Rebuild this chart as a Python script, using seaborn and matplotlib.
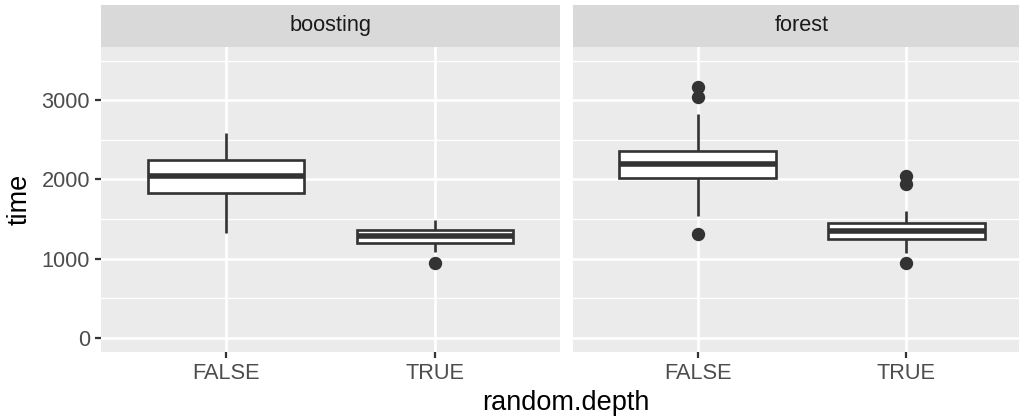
import pandas as pd
import seaborn as sns
import matplotlib.pyplot as plt
from matplotlib.ticker import MultipleLocator

# values (boxes: whisker ends, quartiles, median, outliers)
boosting_false = [1322, 1600, 1834, 1950, 2049, 2150, 2243, 2400, 2582]
boosting_true = [947, 1081, 1200, 1250, 1289, 1320, 1356, 1420, 1492]
forest_false = [1306, 1534, 1800, 2019, 2080, 2150, 2196, 2250, 2300, 2361, 2826, 3046, 3172]
forest_true = [947, 1074, 1200, 1251, 1300, 1330, 1352, 1400, 1430, 1449, 1601, 1939, 2044]

panels = ["boosting", "forest"]
depth_levels = ["FALSE", "TRUE"]
y_ticks = [0, 1000, 2000, 3000]

rows = []
for panel, depth, vals in [("boosting", "FALSE", boosting_false),
                           ("boosting", "TRUE", boosting_true),
                           ("forest", "FALSE", forest_false),
                           ("forest", "TRUE", forest_true)]:
    for v in vals:
        rows.append({"method": panel, "random.depth": depth, "time": v})
data = pd.DataFrame(rows)

sns.set_theme(style="white")
plt.rcParams["font.family"] = ["Liberation Sans", "DejaVu Sans"]

dpi = 160
fig = plt.figure(figsize=(1019 / dpi, 416 / dpi), dpi=dpi)

W, H = 1019, 416
panel_w = 459
panel_bottom, panel_top = 351.7, 46.7
strip_top = 5
lefts = [101, 572.5]
small, big = 9.8, 12.2

for i, panel in enumerate(panels):
    left = lefts[i]
    ax = fig.add_axes([left / W, 1 - panel_bottom / H, panel_w / W, (panel_bottom - panel_top) / H])
    ax.set_facecolor("#EBEBEB")
    sub = data[data["method"] == panel]
    sns.boxplot(data=sub, x="random.depth", y="time", order=depth_levels, ax=ax,
                color="white", saturation=1, linecolor="#333333", linewidth=1.2,
                width=0.75, showcaps=False, fliersize=5,
                medianprops=dict(linewidth=2.5),
                flierprops=dict(marker="o", markerfacecolor="#333333",
                                markeredgecolor="#333333", markersize=5))
    ax.set_xlim(-0.6, 1.6)
    ax.set_ylim(-175, 3675)
    ax.set_yticks(y_ticks)
    ax.yaxis.set_minor_locator(MultipleLocator(500))
    ax.set_axisbelow(True)
    ax.grid(True, which="major", color="white", linewidth=1.2)
    ax.grid(True, which="minor", axis="y", color="white", linewidth=0.6)
    for s in ax.spines.values():
        s.set_visible(False)
    ax.tick_params(axis="both", which="major", length=2.5, width=1.0, color="#333333",
                   labelcolor="#4D4D4D", labelsize=small, pad=2.5,
                   bottom=True, left=(i == 0))
    ax.tick_params(axis="y", which="minor", length=0)
    ax.set_xlabel("")
    ax.set_ylabel("")
    if i == 0:
        ax.set_ylabel("time", fontsize=big, color="black", labelpad=4)
    else:
        ax.set_yticklabels([])

    sax = fig.add_axes([left / W, 1 - panel_top / H, panel_w / W, (panel_top - strip_top) / H])
    sax.set_facecolor("#D9D9D9")
    sax.set_xticks([])
    sax.set_yticks([])
    for s in sax.spines.values():
        s.set_visible(False)
    sax.text(0.5, 0.5, panel, ha="center", va="center", fontsize=small,
             color="#1A1A1A", transform=sax.transAxes)

fig.text((101 + 572.5 + panel_w) / 2 / W, 1 - 403 / H, "random.depth",
         ha="center", va="center", fontsize=big, color="black")

fig.savefig("out.png", dpi=dpi, facecolor="white")
